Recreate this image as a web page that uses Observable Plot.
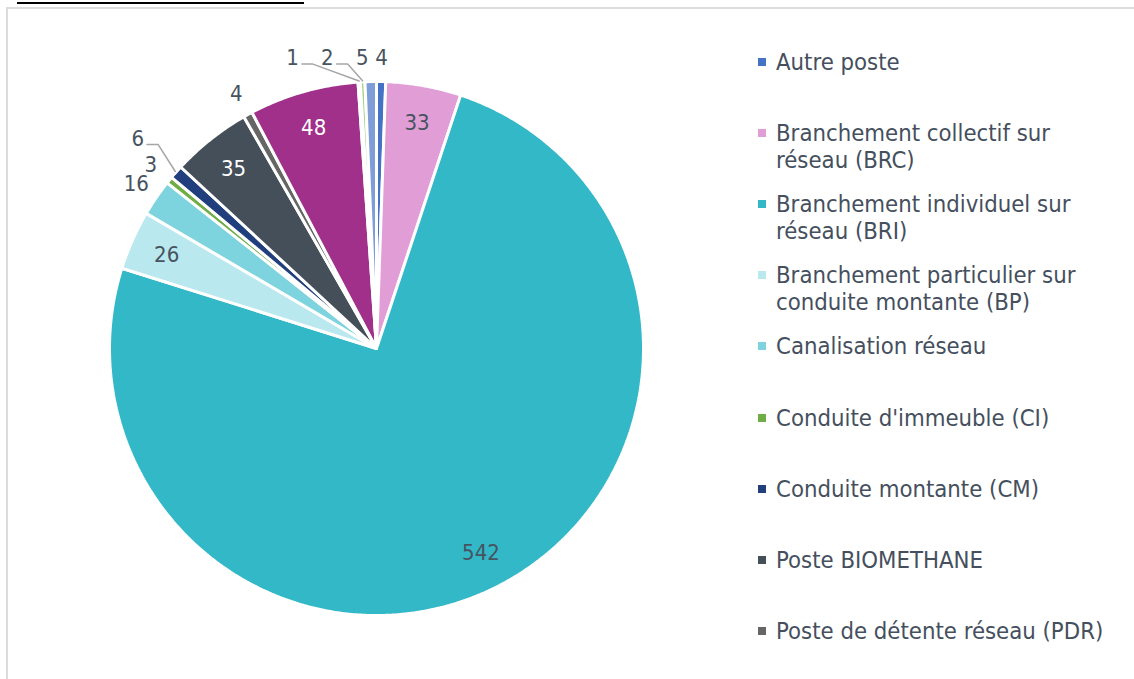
<!DOCTYPE html>
<html>
<head>
<meta charset="utf-8">
<script src="https://cdn.jsdelivr.net/npm/d3@7"></script>
<script src="https://cdn.jsdelivr.net/npm/@observablehq/plot@0.6"></script>
<style>
  html, body { margin: 0; padding: 0; background: #fff; overflow: hidden; }
  body { width: 1134px; height: 679px; position: relative; font-family: "DejaVu Sans Condensed", "DejaVu Sans", sans-serif; font-stretch: condensed; }
  #frame { position: absolute; left: 6px; top: 7px; width: 1200px; height: 700px; border-top: 2px solid #DCDCDC; border-left: 2px solid #DCDCDC; }
  #underline { position: absolute; left: 17px; top: 2px; width: 287px; height: 2px; background: #000; }
  #chart { position: absolute; left: 0; top: 0; }
  #legend { position: absolute; left: 0; top: 0; }
  .item { position: absolute; left: 758px; width: 370px; }
  .sw { position: absolute; left: 0; top: 9px; width: 8px; height: 8px; }
  .lab { position: absolute; left: 18px; width: 345px; font-size: 23.7px; line-height: 27px; color: #454F5D; white-space: normal; }
</style>
</head>
<body>
<div id="frame"></div>
<div id="underline"></div>
<div id="chart"></div>
<div id="legend"></div>
<script>
// ---- data (clockwise from 12 o'clock) ----
const names = [
  "Autre poste",
  "Branchement collectif sur réseau (BRC)",
  "Branchement individuel sur réseau (BRI)",
  "Branchement particulier sur conduite montante (BP)",
  "Canalisation réseau",
  "Conduite d'immeuble (CI)",
  "Conduite montante (CM)",
  "Poste BIOMETHANE",
  "Poste de détente réseau (PDR)",
  "Catégorie 10",
  "Catégorie 11",
  "Catégorie 12",
  "Catégorie 13"
];
const values = [4, 33, 542, 26, 16, 3, 6, 35, 4, 48, 1, 2, 5];
const colors = ["#4472C4", "#E19ED6", "#32B8C7", "#B9E8EE", "#7DD4DE", "#70AD47", "#213F7C", "#444F5A", "#666666", "#A0308A", "#D0D0D0", "#A9D18E", "#7F9ED8"];

// ---- layout ----
const W = 740, H = 679, CX = 376, CY = 348, R = 267;
const textDark = "#475360";
const fontFamily = "'DejaVu Sans Condensed', 'DejaVu Sans', sans-serif";
const fontSize = 22;

const total = d3.sum(values);
let acc = 0;
const slices = values.map((v, i) => {
  const a0 = acc / total * 2 * Math.PI; acc += v;
  const a1 = acc / total * 2 * Math.PI;
  return {i, name: names[i], value: v, color: colors[i], a0, a1, mid: (a0 + a1) / 2};
});

// slice polygons (data units = px, y up, origin at pie centre)
const poly = [];
for (const s of slices) {
  poly.push({name: s.name, x: 0, y: 0});
  const n = Math.max(2, Math.ceil((s.a1 - s.a0) / (Math.PI / 360)));
  for (let k = 0; k <= n; k++) {
    const a = s.a0 + (s.a1 - s.a0) * k / n;
    poly.push({name: s.name, x: R * Math.sin(a), y: R * Math.cos(a)});
  }
  poly.push({name: s.name, x: 0, y: 0});
}

function isDark(c) {
  const rgb = d3.rgb(c);
  return (0.299 * rgb.r + 0.587 * rgb.g + 0.114 * rgb.b) < 110;
}

const ctx = document.createElement("canvas").getContext("2d");
ctx.font = `${fontSize}px ${fontFamily}`;
const tw = t => ctx.measureText(String(t)).width;

// labels
const labels = [];
const inside = slices.filter(s => (s.a1 - s.a0) >= 10 * Math.PI / 180);
for (const s of inside) {
  labels.push({name: s.name, text: String(s.value), x: 0.86 * R * Math.sin(s.mid), y: 0.86 * R * Math.cos(s.mid),
    white: isDark(s.color)});
}
// outside labels: top cluster pushed sideways, others pushed outwards
const angDist = (a, b) => { const d = Math.abs(a - b) % (2 * Math.PI); return Math.min(d, 2 * Math.PI - d); };
const outside = slices.filter(s => (s.a1 - s.a0) < 10 * Math.PI / 180).map(s => {
  const horiz = Math.abs(Math.sin(s.mid)) < 0.35;
  const key = horiz ? angDist(s.mid, 0) : Math.min(angDist(s.mid, Math.PI / 2), angDist(s.mid, 3 * Math.PI / 2));
  return {...s, horiz, key};
}).sort((a, b) => (b.horiz - a.horiz) || (a.key - b.key));

const placed = [];
const leaders = [];
const LH = 16;
function overlaps(b, pad) {
  return placed.some(p => b.x0 < p.x1 + pad && b.x1 + pad > p.x0 && b.y0 < p.y1 + pad && b.y1 + pad > p.y0);
}
for (const s of outside) {
  const w = tw(s.value);
  const sx = Math.sin(s.mid), sy = Math.cos(s.mid);
  let x = (R + 24) * sx, y = (R + 24) * sy;
  const dx = s.horiz ? (sx >= 0 ? 1 : -1) : sx, dy = s.horiz ? 0 : sy;
  const x0 = x, y0 = y;
  const box = () => ({x0: x - w / 2, x1: x + w / 2, y0: y - LH / 2, y1: y + LH / 2});
  if (overlaps(box(), 1)) {
    let it = 0;
    while (overlaps(box(), s.horiz ? 6 : 10) && it < 300) { x += dx; y += dy; it++; }
    if (s.horiz && Math.hypot(x - x0, y - y0) > 10) {
      while (overlaps(box(), 22) && it < 400) { x += dx; y += dy; it++; }
    }
  }
  placed.push(box());
  labels.push({name: s.name, text: String(s.value), x, y, white: false});
  if (Math.hypot(x - x0, y - y0) > 10) {
    const ex = (R + 1) * sx, ey = (R + 1) * sy;
    const side = x < ex ? 1 : -1;
    const stx = x + side * (w / 2 + 3), sty = y - 6;
    leaders.push({id: s.name, x: stx, y: sty});
    leaders.push({id: s.name, x: stx + side * 11, y: sty});
    leaders.push({id: s.name, x: ex, y: ey});
  }
}

const chart = Plot.plot({
  width: W, height: H, margin: 0,
  style: {background: "transparent", overflow: "visible"},
  x: {domain: [-CX, W - CX], axis: null},
  y: {domain: [-(H - CY), CY], axis: null},
  color: {domain: names, range: colors},
  marks: [
    Plot.line(poly, {x: "x", y: "y", z: "name", fill: "name", stroke: "white", strokeWidth: 3, strokeLinejoin: "miter", curve: "linear"}),
    Plot.line(leaders, {x: "x", y: "y", z: "id", stroke: "#A6A6A6", strokeWidth: 1.5}),
    Plot.text(labels.filter(d => !d.white), {x: "x", y: "y", text: "text", fill: textDark, fontSize, fontFamily}),
    Plot.text(labels.filter(d => d.white), {x: "x", y: "y", text: "text", fill: "white", fontSize, fontFamily})
  ]
});
document.getElementById("chart").appendChild(chart);

// legend (uses the plot's own colour scale); entries past the frame bottom are clipped away as in the source
const colorScale = chart.scale("color");
const leg = document.getElementById("legend");
names.forEach((n, i) => {
  const top = 49 + i * 71.1;
  if (top + 27 > H) return;
  const item = document.createElement("div");
  item.className = "item";
  item.style.top = top + "px";
  const sw = document.createElement("div");
  sw.className = "sw";
  sw.style.background = colorScale.apply(n);
  const lab = document.createElement("div");
  lab.className = "lab";
  lab.textContent = n;
  item.appendChild(sw); item.appendChild(lab);
  leg.appendChild(item);
});
</script>
</body>
</html>
